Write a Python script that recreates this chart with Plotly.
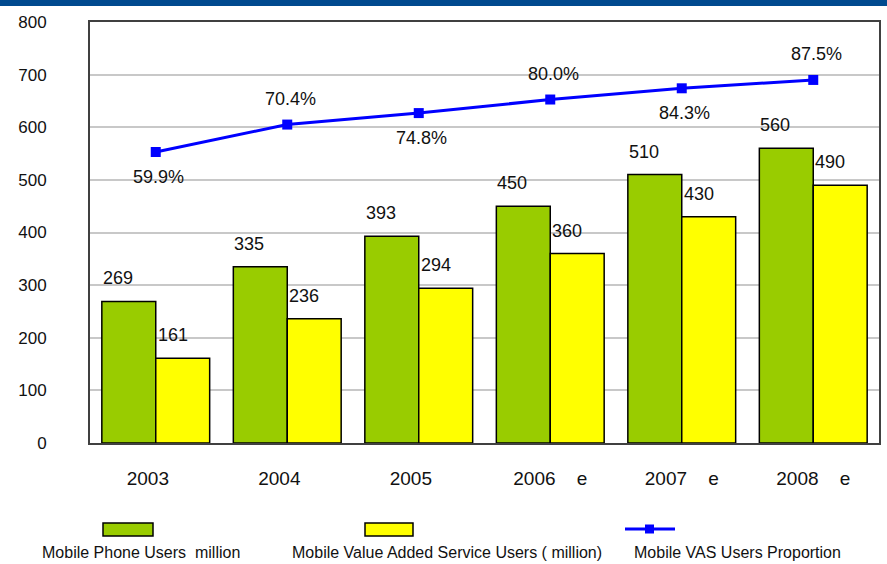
import plotly.graph_objects as go

# ---- data ----
years = ["2003", "2004", "2005", "2006", "2007", "2008"]
tick_labels = ["2003\u00a0\u00a0\u00a0", "2004\u00a0\u00a0\u00a0", "2005\u00a0\u00a0\u00a0",
               "2006\u00a0\u00a0\u00a0\u00a0e", "2007\u00a0\u00a0\u00a0\u00a0e", "2008\u00a0\u00a0\u00a0\u00a0e"]
phone_users = [269, 335, 393, 450, 510, 560]
vas_users = [161, 236, 294, 360, 430, 490]
vas_prop = [59.9, 70.4, 74.8, 80.0, 84.3, 87.5]
prop_label_side = ["below", "above", "below", "above", "below", "above"]
legend_names = ["Mobile Phone Users  million",
                "Mobile Value Added Service Users ( million)",
                "Mobile VAS Users Proportion"]

GREEN = "#99cc00"
YELLOW = "#ffff00"
BLUE = "#0000ff"

W, H = 887, 564
L, R, T, B = 90, 8, 22, 121
PW, PH = W - L - R, H - T - B

def px(xp):
    return (xp - L) / PW

def py(yp):
    return (H - B - yp) / PH

xpos = list(range(len(years)))

fig = go.Figure()
fig.add_trace(go.Bar(x=xpos, y=phone_users, name=legend_names[0], marker=dict(color=GREEN, line=dict(color="#000000", width=1.5))))
fig.add_trace(go.Bar(x=xpos, y=vas_users, name=legend_names[1], marker=dict(color=YELLOW, line=dict(color="#000000", width=1.5))))
fig.add_trace(go.Scatter(x=xpos, y=vas_prop, name=legend_names[2], yaxis="y2", mode="lines+markers",
                         line=dict(color=BLUE, width=3), marker=dict(symbol="square", size=10, color=BLUE)))

ann = []
lab_font = dict(family="Liberation Sans, Arial", size=18, color="#111111")
for xi, v in zip(xpos, phone_users):
    ann.append(dict(x=xi, y=v, xref="x", yref="y", text=str(v), showarrow=False, xanchor="left",
                    yanchor="middle", xshift=-55, yshift=23, font=lab_font))
for xi, v in zip(xpos, vas_users):
    ann.append(dict(x=xi, y=v, xref="x", yref="y", text=str(v), showarrow=False, xanchor="left",
                    yanchor="middle", xshift=0, yshift=23, font=lab_font))
for xi, v, side in zip(xpos, vas_prop, prop_label_side):
    ann.append(dict(x=xi, y=v, xref="x", yref="y2", text=f"{v:.1f}%", showarrow=False, xanchor="center",
                    yanchor="middle", xshift=3, yshift=(26 if side == "above" else -25), font=lab_font))

# custom legend (swatch above text)
leg_font = dict(family="Liberation Sans, Arial", size=16, color="#111111")
shapes = [
    dict(type="rect", xref="paper", yref="paper", x0=px(0), x1=px(W), y0=py(6), y1=py(0), fillcolor="#004a8f", line=dict(width=0), layer="above"),
    dict(type="rect", xref="paper", yref="paper", x0=px(103), x1=px(153), y0=py(536), y1=py(523), fillcolor=GREEN, line=dict(color="#000000", width=1.5)),
    dict(type="rect", xref="paper", yref="paper", x0=px(365), x1=px(413), y0=py(536), y1=py(523), fillcolor=YELLOW, line=dict(color="#000000", width=1.5)),
    dict(type="line", xref="paper", yref="paper", x0=px(625), x1=px(675), y0=py(529), y1=py(529), line=dict(color=BLUE, width=3)),
    dict(type="rect", xref="paper", yref="paper", x0=px(645), x1=px(654), y0=py(533.5), y1=py(524.5), fillcolor=BLUE, line=dict(width=0)),
]
for name, x0 in zip(legend_names, [40, 290, 632]):
    ann.append(dict(x=px(x0), y=py(552), xref="paper", yref="paper", text=name, showarrow=False,
                    xanchor="left", yanchor="middle", font=leg_font))

fig.update_layout(
    width=W, height=H,
    margin=dict(l=L, r=R, t=T, b=B, autoexpand=False),
    paper_bgcolor="white", plot_bgcolor="white",
    barmode="group", bargap=0.18, bargroupgap=0,
    showlegend=False,
    xaxis=dict(range=[-0.5, len(years) - 0.5], tickmode="array", tickvals=xpos, ticktext=tick_labels,
               showgrid=False, zeroline=False, tickangle=0,
               showline=True, linecolor="#404040", linewidth=2, mirror=True, ticks="",
               tickfont=dict(family="Liberation Sans, Arial", size=19, color="#111111"),
               ticklabelstandoff=17),
    yaxis=dict(range=[0, 800], dtick=100, showgrid=True, gridcolor="#c8c8c8", gridwidth=1.5,
               showline=True, linecolor="#404040", linewidth=2, mirror=True, ticks="",
               zeroline=False,
               tickfont=dict(family="Liberation Sans, Arial", size=17, color="#111111"),
               ticklabelstandoff=38),
    yaxis2=dict(range=[-51.6, 109.7], overlaying="y", side="right", visible=False),
    annotations=ann,
    shapes=shapes,
)

fig.write_html("out.html", config={"displayModeBar": False},
               post_script="document.body.style.margin='0px';document.body.style.overflow='hidden';")
